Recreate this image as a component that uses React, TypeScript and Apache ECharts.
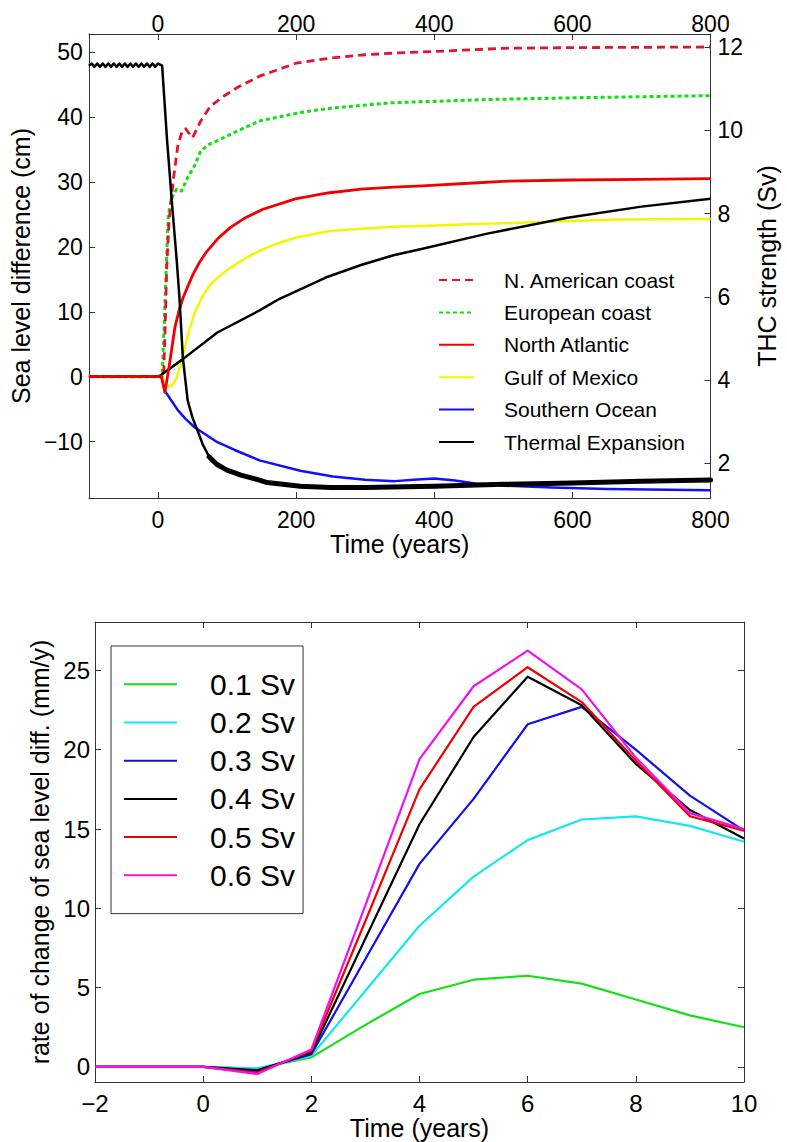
import React, { useEffect, useRef } from "react";
import * as echarts from "echarts";

// ---------- Top panel data (time in years, sea level in cm, THC in Sv) ----------
const naCoast: [number, number][] = [
  [-100, 0], [8, 0], [10, 6], [12.7, 17], [16, 24], [22, 30.2], [29, 35.8], [36, 38.1], [40, 38.2],
  [50, 36.8], [62, 39.4], [76, 41.7], [95, 43.2], [114, 44.5], [147, 46.3], [200, 48.3], [250, 49.1],
  [300, 49.6], [350, 49.9], [400, 50.1], [500, 50.6], [600, 50.7], [800, 50.8],
];
const euCoast: [number, number][] = [
  [-100, 0], [6, 0], [9, 8], [12, 17], [15, 25], [20, 27.5], [27, 28.9], [34, 28.6], [43, 30.7],
  [53, 32.5], [62, 34.8], [74, 35.8], [91, 36.6], [114, 37.8], [147, 39.4], [206, 40.7], [253, 41.4],
  [338, 42.2], [475, 42.7], [617, 43], [800, 43.3],
];
const northAtlantic: [number, number][] = [
  [-100, 0], [5, 0], [10, -2.4], [13, -0.5], [17.5, 2.5], [24.5, 7.6], [30, 10], [36.4, 12.2],
  [50, 15.6], [60, 17.6], [70, 19.2], [86, 21.2], [105, 23], [125, 24.4], [152, 25.8], [199, 27.4],
  [246, 28.3], [294, 28.9], [341, 29.2], [383, 29.4], [450, 29.8], [500, 30.1], [600, 30.3], [700, 30.4], [800, 30.5],
];
const gulfMexico: [number, number][] = [
  [-100, 0], [6, 0], [9, -1], [13, -1.6], [20, -1.4], [27, -0.2], [33, 1.8], [39, 4.5], [45, 7.1],
  [53, 9.8], [64, 12.3], [76, 14.2], [90, 15.6], [105, 16.8], [120, 17.8], [136, 18.8], [152, 19.6],
  [175, 20.6], [199, 21.4], [246, 22.4], [294, 22.8], [341, 23.1], [383, 23.2], [450, 23.5], [523, 23.7],
  [600, 24], [664, 24.2], [800, 24.3],
];
const southernOcean: [number, number][] = [
  [-100, 0], [5, 0], [10, -2.2], [20, -3.8], [29, -5.2], [40, -6.5], [53, -7.8], [70, -9], [86, -10.1],
  [111, -11.3], [147, -12.9], [206, -14.5], [253, -15.4], [300, -15.9], [343, -16.1], [370, -15.9],
  [400, -15.7], [430, -16], [461, -16.5], [500, -16.8], [570, -17.1], [650, -17.3], [800, -17.5],
];
const thermalExpansion: [number, number][] = [
  [-100, 0], [0, 0], [3, 0.15], [36, 2.7], [86, 6.8], [147, 10.2], [176, 12], [199, 13.1], [246, 15.4],
  [294, 17.2], [341, 18.7], [383, 19.7], [475, 22], [593, 24.5], [700, 26.2], [800, 27.4],
];
const thcCollapse: [number, number][] = [
  [-100, 11.55], [-96, 11.6], [-92, 11.52], [-88, 11.6], [-84, 11.52], [-80, 11.6], [-76, 11.52],
  [-72, 11.6], [-68, 11.52], [-64, 11.6], [-60, 11.52], [-56, 11.6], [-52, 11.52], [-48, 11.6],
  [-44, 11.52], [-40, 11.6], [-36, 11.52], [-32, 11.6], [-28, 11.52], [-24, 11.6], [-20, 11.52],
  [-16, 11.6], [-12, 11.52], [-8, 11.6], [-4, 11.52], [0, 11.6], [6, 11.55], [13, 9.8], [20, 8.3],
  [27, 6.9], [31, 6.0], [36, 4.54], [43, 3.51], [50, 3.1], [57, 2.8], [65, 2.45], [74, 2.16], [85, 1.98],
];
const thcTail: [number, number][] = [
  [74, 2.16], [85, 1.98], [100, 1.84], [120, 1.72], [147, 1.6], [158, 1.54], [206, 1.45], [250, 1.42],
  [300, 1.42], [400, 1.45], [500, 1.5], [600, 1.53], [700, 1.57], [800, 1.6],
];
const topTimeTicks = [0, 200, 400, 600, 800];
const seaLevelTicks = [-10, 0, 10, 20, 30, 40, 50];
const thcTicks = [2, 4, 6, 8, 10, 12];

// ---------- Bottom panel data ----------
const years = [-2, -1, 0, 1, 2, 3, 4, 5, 6, 7, 8, 9, 10];
const rate01 = [0, 0, 0, -0.1, 0.6, 2.65, 4.6, 5.5, 5.75, 5.25, 4.25, 3.25, 2.5];
const rate02 = [0, 0, 0, -0.1, 0.7, 4.8, 8.9, 12.0, 14.3, 15.6, 15.8, 15.2, 14.2];
const rate03 = [0, 0, 0, -0.2, 0.8, 6.8, 12.8, 16.9, 21.6, 22.7, 20.0, 17.1, 14.9];
const rate04 = [0, 0, 0, -0.25, 0.9, 8.1, 15.3, 20.8, 24.6, 22.8, 19.1, 16.2, 14.4];
const rate05 = [0, 0, 0, -0.35, 1.0, 9.2, 17.5, 22.7, 25.2, 23.0, 19.3, 15.8, 14.9];
const rate06 = [0, 0, 0, -0.45, 1.1, 10.2, 19.4, 24.0, 26.25, 23.8, 19.5, 16.0, 15.0];
const rateTicks = [0, 5, 10, 15, 20, 25];

const FONT = '"Liberation Sans", Arial, Helvetica, sans-serif';
const fmt = (v: number) => (v < 0 ? "\u2212" + Math.abs(v) : String(v));

const lineAxis = { show: true, onZero: false, lineStyle: { color: "#333", width: 1 } };
const tickIn = (vals?: number[]) => ({
  show: true,
  inside: true,
  length: 6,
  lineStyle: { color: "#333", width: 1 },
  ...(vals ? { customValues: vals } : {}),
});
const label = (size: number, margin: number, vals?: number[]) => ({
  show: true,
  fontSize: size,
  fontFamily: FONT,
  color: "#000",
  margin,
  formatter: fmt,
  ...(vals ? { customValues: vals } : {}),
});
const nameStyle = (size: number) => ({ fontSize: size, fontFamily: FONT, color: "#000" });
const noSymbol = { color: "rgba(0,0,0,0)", borderColor: "rgba(0,0,0,0)", borderWidth: 0 };

export default function App() {
  const ref = useRef<HTMLDivElement>(null);
  useEffect(() => {
    if (!ref.current) return;
    const chart = echarts.init(ref.current, undefined, { renderer: "svg" });
    const line = (
      name: string,
      data: any,
      color: string,
      width: number,
      xi: number,
      yi: number,
      type: any = "solid",
      cap: string = "butt"
    ) => ({
      name,
      type: "line",
      data,
      xAxisIndex: xi,
      yAxisIndex: yi,
      showSymbol: false,
      symbol: "none",
      smooth: false,
      lineStyle: { color, width, type, cap, join: "round" },
      itemStyle: { color },
      emphasis: { disabled: true },
    });
    chart.setOption({
      animation: false,
      backgroundColor: "#fff",
      textStyle: { fontFamily: FONT },
      grid: [
        { left: 85, top: 34, width: 636, height: 464 },
        { left: 95, top: 622, width: 649, height: 460 },
      ],
      xAxis: [
        {
          gridIndex: 0, type: "value", min: -100, max: 800, position: "bottom",
          axisLine: lineAxis, axisTick: tickIn(topTimeTicks), axisLabel: label(23, 10, topTimeTicks),
          splitLine: { show: false },
          name: "Time (years)", nameLocation: "middle", nameGap: 32, nameTextStyle: nameStyle(25),
        },
        {
          gridIndex: 0, type: "value", min: -100, max: 800, position: "top",
          axisLine: lineAxis, axisTick: tickIn(topTimeTicks), axisLabel: label(23, -1, topTimeTicks),
          splitLine: { show: false },
        },
        {
          gridIndex: 1, type: "value", min: -2, max: 10, interval: 2, position: "bottom",
          axisLine: lineAxis, axisTick: tickIn(), axisLabel: label(24, 9),
          splitLine: { show: false },
          name: "Time (years)", nameLocation: "middle", nameGap: 30, nameTextStyle: nameStyle(25),
        },
        {
          gridIndex: 1, type: "value", min: -2, max: 10, interval: 2, position: "top",
          axisLine: lineAxis, axisTick: tickIn(), axisLabel: { show: false },
          splitLine: { show: false },
        },
      ],
      yAxis: [
        {
          gridIndex: 0, type: "value", min: -18.7, max: 52.8, position: "left",
          axisLine: lineAxis, axisTick: tickIn(seaLevelTicks), axisLabel: label(23, 6, seaLevelTicks),
          splitLine: { show: false },
          name: "Sea level difference (cm)", nameLocation: "middle", nameRotate: 90, nameGap: 47,
          nameTextStyle: nameStyle(25),
        },
        {
          gridIndex: 0, type: "value", min: 1.17, max: 12.31, position: "right",
          axisLine: lineAxis, axisTick: tickIn(thcTicks), axisLabel: label(23, 7, thcTicks),
          splitLine: { show: false },
          name: "THC strength (Sv)", nameLocation: "middle", nameRotate: 90, nameGap: 42,
          nameTextStyle: nameStyle(25),
        },
        {
          gridIndex: 1, type: "value", min: -0.95, max: 28.05, position: "left",
          axisLine: lineAxis, axisTick: tickIn(rateTicks), axisLabel: label(24, 5, rateTicks),
          splitLine: { show: false },
          name: "rate of change of sea level diff. (mm/y)", nameLocation: "middle", nameRotate: 90,
          nameGap: 28, nameTextStyle: nameStyle(25),
        },
        {
          gridIndex: 1, type: "value", min: -0.95, max: 28.05, position: "right",
          axisLine: lineAxis, axisTick: tickIn(rateTicks), axisLabel: { show: false },
          splitLine: { show: false },
        },
      ],
      legend: [
        {
          data: ["N. American coast", "European coast", "North Atlantic", "Gulf of Mexico", "Southern Ocean", "Thermal Expansion"],
          orient: "vertical",
          left: 438,
          top: 268,
          itemWidth: 35,
          itemHeight: 12,
          itemGap: 8.4,
          padding: 0,
          selectedMode: false,
          itemStyle: noSymbol,
          textStyle: { fontSize: 21, fontFamily: FONT, color: "#000", lineHeight: 24, padding: [0, 0, 0, 25] },
        },
        {
          data: ["0.1 Sv", "0.2 Sv", "0.3 Sv", "0.4 Sv", "0.5 Sv", "0.6 Sv"],
          orient: "vertical",
          left: 111,
          top: 646,
          itemWidth: 53,
          itemHeight: 12,
          itemGap: 8.2,
          padding: [23.3, 8, 23.3, 12],
          borderColor: "#333",
          borderWidth: 1,
          selectedMode: false,
          itemStyle: noSymbol,
          textStyle: { fontSize: 30, fontFamily: FONT, color: "#000", lineHeight: 30, padding: [0, 0, 0, 28] },
        },
      ],
      series: [
        line("Southern Ocean", southernOcean, "#1010ff", 2.5, 0, 0),
        line("Gulf of Mexico", gulfMexico, "#f5f500", 2.5, 0, 0),
        line("European coast", euCoast, "#12e012", 3, 0, 0, [4, 3]),
        line("N. American coast", naCoast, "#e3132d", 2.8, 0, 0, [8, 5]),
        line("Thermal Expansion", thermalExpansion, "#000", 2.5, 0, 0),
        line("North Atlantic", northAtlantic, "#f00000", 2.8, 0, 0),
        line("THC", thcCollapse, "#000", 2.5, 0, 1),
        line("THC tail", thcTail, "#000", 5, 0, 1, "solid", "round"),
        line("0.1 Sv", years.map((t, i) => [t, rate01[i]]), "#14e014", 2.2, 2, 2),
        line("0.2 Sv", years.map((t, i) => [t, rate02[i]]), "#14e8e8", 2.2, 2, 2),
        line("0.3 Sv", years.map((t, i) => [t, rate03[i]]), "#1010e8", 2.2, 2, 2),
        line("0.4 Sv", years.map((t, i) => [t, rate04[i]]), "#000", 2.2, 2, 2),
        line("0.5 Sv", years.map((t, i) => [t, rate05[i]]), "#f00000", 2.2, 2, 2),
        line("0.6 Sv", years.map((t, i) => [t, rate06[i]]), "#f010f0", 2.2, 2, 2),
      ],
    });
    return () => chart.dispose();
  }, []);
  return (
    <div
      ref={ref}
      style={{ position: "fixed", left: 0, top: 0, width: 787, height: 1142, background: "#fff" }}
    />
  );
}
